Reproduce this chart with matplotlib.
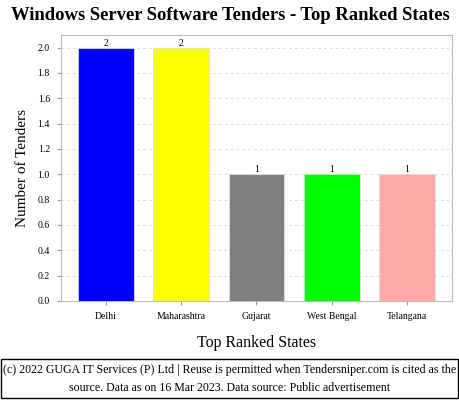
import matplotlib
matplotlib.use("Agg")
import matplotlib.pyplot as plt
from matplotlib.patches import Rectangle

# 数据
states = ["Delhi", "Maharashtra", "Gujarat", "West Bengal", "Telangana"]
tenders = [2, 2, 1, 1, 1]
colors = ["#0000ff", "#ffff00", "#808080", "#00ff00", "#ffaaaa"]
yticks = [0.0, 0.2, 0.4, 0.6, 0.8, 1.0, 1.2, 1.4, 1.6, 1.8, 2.0]

title = "Windows Server Software Tenders - Top Ranked States"
footer = ("(c) 2022 GUGA IT Services (P) Ltd | Reuse is permitted when Tendersniper.com is cited as the\n"
          "source. Data as on 16 Mar 2023. Data source: Public advertisement")

plt.rcParams["font.family"] = ["Liberation Serif", "DejaVu Serif"]

fig = plt.figure(figsize=(4.6, 4.0), dpi=100)
ax = fig.add_axes([0.1326, 0.2475, 0.85, 0.665])

x = range(len(states))
bars = ax.bar(x, tenders, width=0.74, color=colors, edgecolor="#dddddd", linewidth=0.6, zorder=3)
for b, v in zip(bars, tenders):
    ax.text(b.get_x() + b.get_width() / 2, v, str(v), ha="center", va="bottom", fontsize=7)

ax.set_xlim(-0.6, 4.6)
ax.set_ylim(0, 2.1)
ax.set_xticks(list(x))
ax.set_xticklabels(states, fontsize=7)
ax.set_yticks(yticks)
ax.set_yticklabels([f"{t:.1f}" for t in yticks], fontsize=7)
ax.tick_params(axis="both", length=3, color="#999999", pad=5)
ax.yaxis.grid(True, linestyle=(0, (3, 3)), color="#dddddd", linewidth=0.7, zorder=0)
for s in ax.spines.values():
    s.set_color("#bbbbbb")

ax.set_ylabel("Number of Tenders", fontsize=11, labelpad=6)
ax.set_xlabel("Top Ranked States", fontsize=11.5, labelpad=10)
fig.text(0.5, 0.96, title, ha="center", va="center", fontsize=13.4, fontweight="bold")

# 版权说明框
fig.patches.append(Rectangle((0.002, 0.005), 0.993, 0.097, transform=fig.transFigure,
                             fill=False, edgecolor="black", linewidth=1.0))
fig.text(0.5, 0.053, footer, ha="center", va="center", fontsize=8.6, linespacing=1.7)

fig.savefig("out.png", dpi=100)
